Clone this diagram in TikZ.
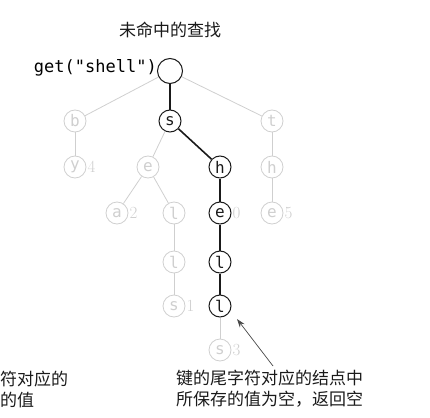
\documentclass[tikz,border=0pt]{standalone}
\usepackage{fontspec}
\setmonofont{DejaVu Sans Mono}
\newfontfamily\cjk{Noto Sans CJK SC}
\usepackage{xcolor}
\usetikzlibrary{arrows.meta,positioning}
\definecolor{ink}{HTML}{1A1A1A}
\definecolor{faint}{HTML}{CFCFCF}

\begin{document}
\begin{tikzpicture}[
  x=1pt,y=-1pt,
  node distance=1pt,
  every node/.style={inner sep=0pt},
  hit/.style={draw=ink,line width=1pt,circle,minimum size=22pt,font=\ttfamily\fontsize{16}{16}\selectfont,text=ink},
  miss/.style={draw=faint,line width=0.8pt,circle,minimum size=22pt,font=\ttfamily\fontsize{16}{16}\selectfont,text=faint},
  val/.style={font=\fontsize{17}{17}\selectfont,text=faint},
  note/.style={font=\cjk\fontsize{17}{21}\selectfont,text=ink,align=left},
  walk/.style={draw=ink,line width=1.6pt},
  rest/.style={draw=faint,line width=0.8pt},
  arrow/.style={-{Stealth[length=3mm,width=2mm]},draw=ink!80,line width=0.7pt}
]
\useasboundingbox (0,0) rectangle (430,417);
\node[note] (title) at (170,30) {未命中的查找};
\node[hit,minimum size=25pt] (root) at (170,71) {};
\node[font=\ttfamily\fontsize{17}{17}\selectfont,anchor=east] (call) at (157,68) {get("shell")};
% first level
\node[miss] (b) at (75,121) {b};
\node[hit] (s) at (170,121) {s};
\node[miss] (t) at (272,121) {t};
% second level
\node[miss] (y) at (75,167) {y};
\node[miss] (e1) at (148,167) {e};
\node[hit] (h) at (220,167) {h};
\node[miss] (h2) at (272,167) {h};
% third level
\node[miss] (a) at (117,213) {a};
\node[miss] (l1) at (174,213) {l};
\node[hit] (e) at (220,213) {e};
\node[miss] (e2) at (272,213) {e};
% fourth and below
\node[miss] (l2) at (174,262) {l};
\node[hit] (l3) at (220,262) {l};
\node[miss] (s1) at (174,306) {s};
\node[hit] (l4) at (220,306) {l};
\node[miss] (s2) at (220,350) {s};
% values
\node[val,right=of y] (vy) {4};
\node[val,right=of a] (va) {2};
\node[val,right=of e] (ve) {0};
\node[val,right=of e2] (ve2) {5};
\node[val,right=of s1] (vs1) {1};
\node[val,right=of s2] (vs2) {3};
% links
\draw[rest] (root)--(b); \draw[rest] (root)--(t);
\draw[rest] (b)--(y); \draw[rest] (s)--(e1); \draw[rest] (t)--(h2);
\draw[rest] (e1)--(a); \draw[rest] (e1)--(l1); \draw[rest] (h2)--(e2);
\draw[rest] (l1)--(l2); \draw[rest] (l2)--(s1); \draw[rest] (l4)--(s2);
\draw[walk] (root)--(s); \draw[walk] (s)--(h); \draw[walk] (h)--(e);
\draw[walk] (e)--(l3); \draw[walk] (l3)--(l4);
% notes
\node[note,anchor=west] (empty) at (176,389) {键的尾字符对应的结点中\\所保存的值为空，返回空};
\node[note,anchor=west] (cut) at (0,389) {符对应的\\的值};
\coordinate (from) at (273,366);
\coordinate (tip) at (237,319);
\draw[arrow] (from) -- (tip);
\end{tikzpicture}
\end{document}
